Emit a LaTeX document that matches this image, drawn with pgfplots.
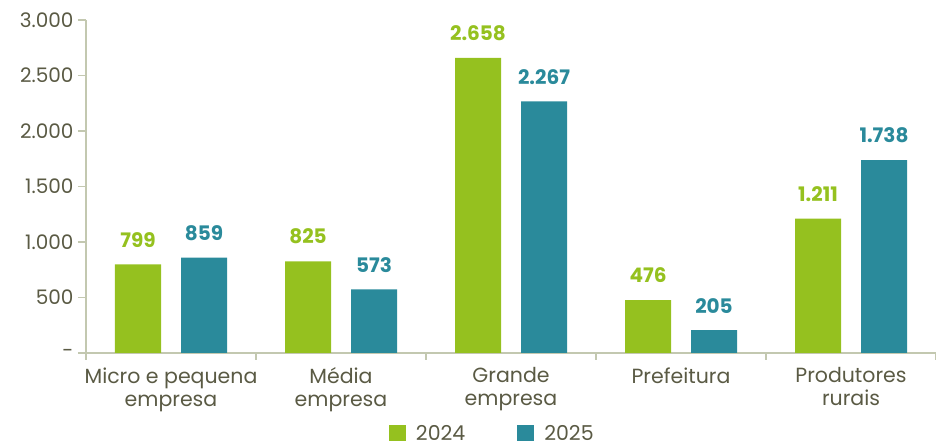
\documentclass[border=0pt]{standalone}
\usepackage{pgfplots}
\pgfplotsset{compat=1.18}
\usepackage{fontspec}
\setmainfont{Poppins}
\definecolor{cgreen}{HTML}{95C11F}
\definecolor{cteal}{HTML}{2A8A9B}
\definecolor{ctext}{HTML}{5A5A44}
\definecolor{caxis}{HTML}{C3C8B0}
\pgfkeys{/pgf/number format/.cd,1000 sep={.},assume math mode=true}
\begin{document}
\begin{tikzpicture}
\path[use as bounding box] (-86pt,-93pt) rectangle (850pt,353pt);
\begin{axis}[
  at={(0,0)}, anchor=south west,
  scale only axis, width=850pt, height=333pt,
  xmin=-0.5, xmax=4.5, ymin=0, ymax=3000,
  axis x line*=bottom, axis y line*=left,
  axis line style={caxis, line width=1.3pt},
  ybar=20pt, bar width=46pt,
  ytick={0,500,1000,1500,2000,2500,3000},
  yticklabels={-,500,1.000,1.500,2.000,2.500,3.000},
  xtick={0,1,2,3,4},
  xticklabels={Micro e pequena\\empresa, Média\\empresa, Grande\\empresa, Prefeitura, Produtores\\rurais},
  minor xtick={-0.5,0.5,1.5,2.5,3.5,4.5},
  major x tick style={draw=none},
  tick style={caxis, line width=1.2pt},
  tick align=outside,
  major tick length=8pt, minor tick length=7pt,
  xticklabel style={align=center, font=\fontsize{20.5}{23}\selectfont, text=ctext, yshift=-3pt},
  yticklabel style={font=\fontsize{20}{24}\selectfont, text=ctext, xshift=-1pt},
  nodes near coords,
  every node near coord/.append style={font=\fontsize{20}{23}\selectfont\bfseries, inner sep=0pt, yshift=17pt},
  legend style={at={(0.478,-0.241)}, anchor=center, draw=none, fill=none, legend columns=2,
    font=\fontsize{20.5}{24}\selectfont, text=ctext,
    /tikz/every even column/.append style={column sep=50pt},
    /tikz/every odd column/.append style={column sep=8pt}},
  legend image code/.code={\fill[#1,draw=none] (0pt,-8pt) rectangle (17pt,8pt);},
]
\addplot[fill=cgreen, draw=none, nodes near coords style={text=cgreen}] coordinates {(0,799) (1,825) (2,2658) (3,476) (4,1211)};
\addplot[fill=cteal, draw=none, nodes near coords style={text=cteal}] coordinates {(0,859) (1,573) (2,2267) (3,205) (4,1738)};
\legend{2024,2025}
\end{axis}
\end{tikzpicture}
\end{document}
